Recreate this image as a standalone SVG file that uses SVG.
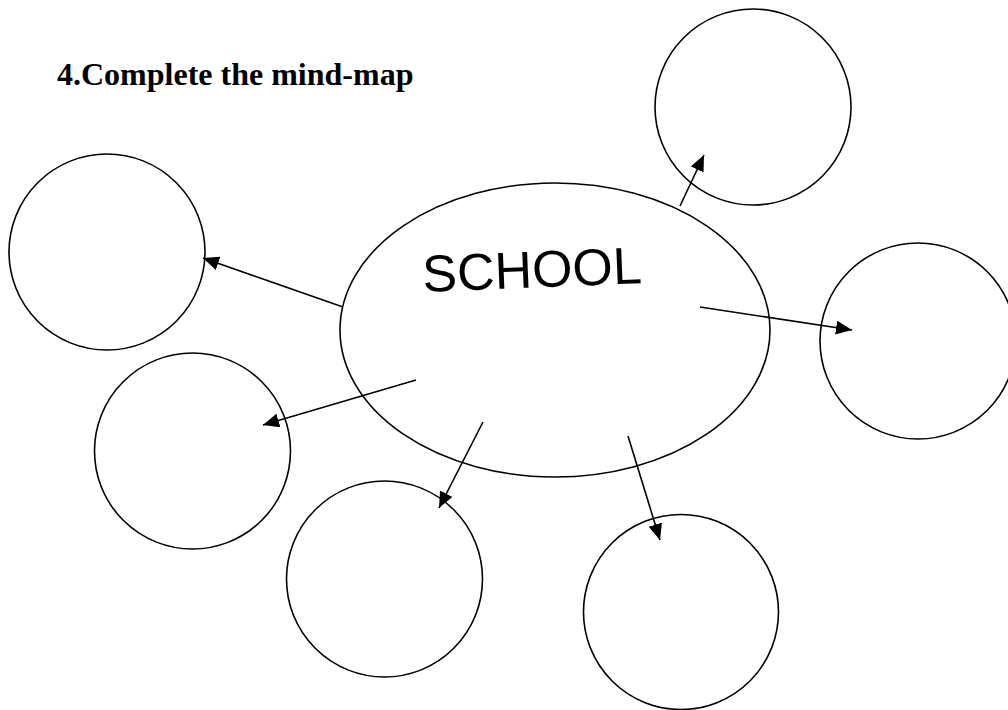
<svg xmlns="http://www.w3.org/2000/svg" width="1008" height="710" viewBox="0 0 1008 710">
<style>
.n{fill:none;stroke:#000;stroke-width:1.6}
.c{fill:none;stroke:#000;stroke-width:1.6}
.title{font-family:"Liberation Serif","Times New Roman",serif;font-weight:bold;font-size:32px;fill:#000}
.lbl{font-family:"Liberation Sans",Arial,sans-serif;font-size:52px;fill:#000}
</style>
<defs>
<marker id="ah" markerUnits="userSpaceOnUse" markerWidth="18" markerHeight="16" refX="16" refY="7" orient="auto">
<path d="M0,0 L16,7 L0,14 z" fill="#000"/>
</marker>
</defs>
<rect width="1008" height="710" fill="#fff"/>
<text class="title" x="57" y="85">4.Complete the mind-map</text>
<g id="school">
<ellipse class="n" cx="555" cy="330" rx="215" ry="147"/>
<text class="lbl" x="423" y="292" transform="rotate(-2.3 423 292)">SCHOOL</text>
</g>
<g id="node-top-right"><circle class="n" cx="753" cy="107" r="98"/></g>
<g id="node-left"><circle class="n" cx="107" cy="252" r="98"/></g>
<g id="node-right"><circle class="n" cx="918" cy="341" r="98"/></g>
<g id="node-left-lower"><circle class="n" cx="192.5" cy="451" r="98"/></g>
<g id="node-bottom"><circle class="n" cx="384.5" cy="579" r="98"/></g>
<g id="node-bottom-right"><circle class="n" cx="681" cy="612" r="97.5"/></g>
<g id="connectors">
<line class="c" x1="680" y1="206" x2="704" y2="155" marker-end="url(#ah)"/>
<line class="c" x1="343" y1="307" x2="203" y2="258" marker-end="url(#ah)"/>
<line class="c" x1="700" y1="307" x2="852" y2="330" marker-end="url(#ah)"/>
<line class="c" x1="416" y1="380" x2="263" y2="425" marker-end="url(#ah)"/>
<line class="c" x1="483" y1="422" x2="439" y2="508" marker-end="url(#ah)"/>
<line class="c" x1="628" y1="436" x2="660" y2="540" marker-end="url(#ah)"/>
</g>
</svg>
